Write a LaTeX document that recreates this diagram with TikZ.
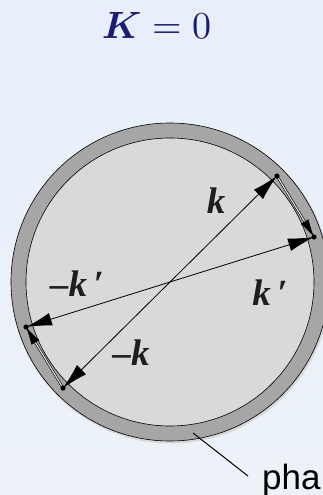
\documentclass[tikz,border=0pt]{standalone}
\usepackage{amsmath,bm}
\usepackage{graphicx}
\usepackage{fontspec}
\usetikzlibrary{arrows.meta}
\newfontfamily\labfont{Liberation Serif}
\newfontfamily\sansfont{Liberation Sans}
\definecolor{bgtop}{RGB}{231,239,250}
\definecolor{bgbot}{RGB}{236,242,248}
\definecolor{ringgray}{RGB}{166,166,166}
\definecolor{discgray}{RGB}{217,217,217}
\definecolor{titleblue}{RGB}{28,28,120}
\definecolor{labgray}{RGB}{30,30,30}
\tikzset{
  veclab/.style={font=\labfont\fontsize{37}{39}\selectfont\bfseries\itshape, text=labgray, inner sep=0pt, anchor=base},
  bigvec/.style={line width=0.8pt, {Latex[length=26pt,width=13pt]}-{Latex[length=26pt,width=13pt]}},
  qvec/.style={double=discgray, double distance=1.2pt, line width=0.6pt, -{Latex[length=18pt,width=9pt]}},
  dot/.style={fill=black},
}
\begin{document}
\begin{tikzpicture}[x=1pt,y=-1pt]
\useasboundingbox (0,0) rectangle (323,495);
\shade[top color=bgtop, bottom color=bgbot] (0,0) rectangle (323,495);
% ring and disc
\coordinate (C) at (170,282);
\fill[black!25, opacity=0.5] (171,283.5) circle[radius=160pt];
\draw[fill=ringgray, line width=0.6pt] (C) circle[radius=159pt];
\draw[fill=discgray, line width=0.6pt] (C) circle[radius=144pt];
% title
\node[anchor=base, text=titleblue, inner sep=0pt] (title) at (156.5,38) {\scalebox{3.8}{$\bm{K}=0$}};
% vector end points
\coordinate (k) at (277,176);
\coordinate (kp) at (314,237);
\coordinate (mkp) at (26,327);
\coordinate (mk) at (63,388);
% q vectors
\draw[qvec] (k) -- (kp);
\draw[qvec] (mk) -- (mkp);
% k vectors
\draw[bigvec] (mk) -- (k);
\draw[bigvec] (mkp) -- (kp);
% dots
\foreach \p in {k,kp,mkp,mk} \fill[dot] (\p) circle[radius=2.6pt];
% labels
\node[veclab] (lk) at (216,213) {k};
\node[veclab] (lkp) at (270,305) {k\,′};
\node[veclab] (lmkp) at (77,296) {–k\,′};
\node[veclab] (lmk) at (131,365) {–k};
% leader
\coordinate (ringpt) at (193,433);
\node[anchor=base west, inner sep=0pt, font=\sansfont\fontsize{35}{37}\selectfont] (pha) at (262,489) {pha};
\coordinate (leadend) at (248,476);
\draw[line width=1pt] (ringpt) -- (leadend);
\end{tikzpicture}
\end{document}
